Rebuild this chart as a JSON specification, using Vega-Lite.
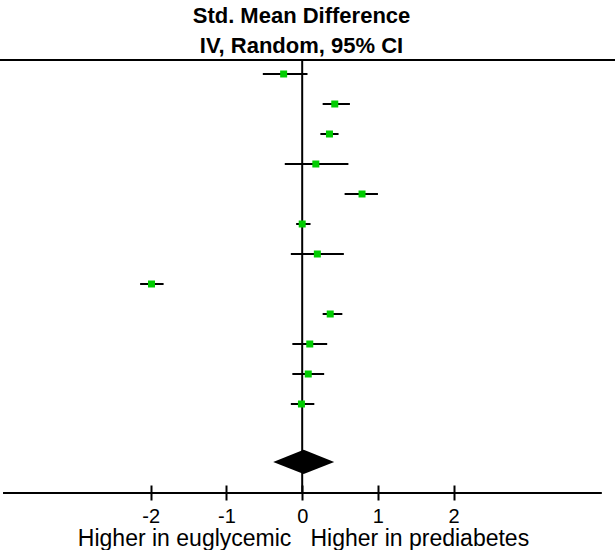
{
  "$schema": "https://vega.github.io/schema/vega-lite/v6.json",
  "width": 615,
  "height": 432,
  "autosize": {"type": "none"},
  "padding": {"top": 60, "bottom": 58, "left": 0, "right": 0},
  "background": "white",
  "view": {"stroke": null},
  "title": {
    "text": ["Std. Mean Difference", "IV, Random, 95% CI"],
    "font": "Liberation Sans",
    "fontSize": 22,
    "fontWeight": "bold",
    "color": "#000000",
    "lineHeight": 30,
    "anchor": "middle",
    "dx": -6,
    "offset": -21,
    "baseline": "bottom"
  },
  "datasets": {
    "studies": [
      {"row": 1, "est": -0.245, "lo": -0.52, "hi": 0.07},
      {"row": 2, "est": 0.43, "lo": 0.27, "hi": 0.63},
      {"row": 3, "est": 0.36, "lo": 0.24, "hi": 0.48},
      {"row": 4, "est": 0.18, "lo": -0.23, "hi": 0.61},
      {"row": 5, "est": 0.79, "lo": 0.56, "hi": 1.0},
      {"row": 6, "est": 0.0, "lo": -0.08, "hi": 0.11},
      {"row": 7, "est": 0.2, "lo": -0.15, "hi": 0.55},
      {"row": 8, "est": -1.99, "lo": -2.14, "hi": -1.83},
      {"row": 9, "est": 0.37, "lo": 0.27, "hi": 0.53},
      {"row": 10, "est": 0.1, "lo": -0.13, "hi": 0.33},
      {"row": 11, "est": 0.08, "lo": -0.13, "hi": 0.29},
      {"row": 12, "est": -0.01, "lo": -0.15, "hi": 0.16}
    ],
    "overall": [
      {"row": 13.93, "est": 0.02, "lo": -0.38, "hi": 0.42}
    ],
    "one": [{}]
  },
  "layer": [
    {
      "data": {"name": "studies"},
      "mark": {"type": "rule", "color": "#000000", "strokeWidth": 2},
      "encoding": {
        "x": {
          "field": "lo",
          "type": "quantitative",
          "scale": {"domain": [-3.99, 4.13], "nice": false, "zero": false},
          "title": "Higher in euglycemic\u00a0\u00a0\u00a0Higher in prediabetes",
          "axis": {
            "values": [-2, -1, 0, 1, 2],
            "labelExpr": "'' + datum.value",
            "domain": false,
            "grid": false,
            "offset": -7,
            "tickSize": 15,
            "tickColor": "#000000",
            "tickWidth": 2,
            "labelFont": "Liberation Sans",
            "labelFontSize": 20,
            "labelColor": "#000000",
            "labelPadding": 6,
            "titleFont": "Liberation Sans",
            "titleFontSize": 23,
            "titleFontWeight": "normal",
            "titleColor": "#000000",
            "titlePadding": 1,
            "titleX": 303
          }
        },
        "x2": {"field": "hi"},
        "y": {
          "field": "row",
          "type": "quantitative",
          "scale": {"domain": [0.5333, 14.9333], "nice": false, "zero": false, "reverse": true},
          "axis": null
        }
      }
    },
    {
      "data": {"name": "one"},
      "mark": {"type": "rule", "color": "#000000", "strokeWidth": 2},
      "encoding": {"x": {"datum": 0, "type": "quantitative"}}
    },
    {
      "data": {"name": "one"},
      "mark": {"type": "rule", "color": "#000000", "strokeWidth": 2},
      "encoding": {"y": {"datum": 0.5333, "type": "quantitative", "axis": null}}
    },
    {
      "data": {"name": "one"},
      "mark": {"type": "rule", "color": "#000000", "strokeWidth": 2},
      "encoding": {
        "x": {"datum": -3.95, "type": "quantitative"},
        "x2": {"datum": 3.956},
        "y": {"datum": 14.9667, "type": "quantitative", "axis": null}
      }
    },
    {
      "data": {"name": "studies"},
      "mark": {"type": "point", "shape": "square", "filled": true, "size": 49, "color": "#00cc00", "opacity": 1},
      "encoding": {
        "x": {"field": "est", "type": "quantitative"},
        "y": {"field": "row", "type": "quantitative", "axis": null}
      }
    },
    {
      "data": {"name": "overall"},
      "mark": {"type": "point", "shape": "M-1,0L0,-0.4L1,0L0,0.4Z", "filled": true, "size": 3721, "color": "#000000", "opacity": 1},
      "encoding": {
        "x": {"field": "est", "type": "quantitative"},
        "y": {"field": "row", "type": "quantitative", "axis": null}
      }
    }
  ]
}
